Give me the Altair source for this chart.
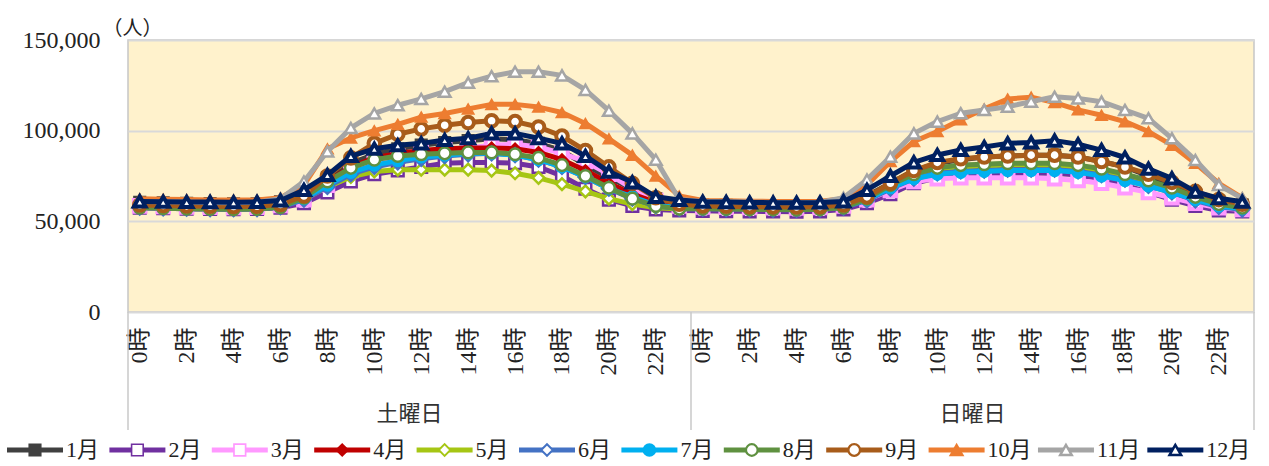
import json

import altair as alt
import pandas as pd

# ---- categories -----------------------------------------------------------
MONTHS = ["1月", "2月", "3月", "4月", "5月", "6月",
          "7月", "8月", "9月", "10月", "11月", "12月"]
DAYS = ["土曜日", "日曜日"]
HOUR_LABELS = [f"{h}時" for h in range(24)]
Y_TICKS = [0, 50000, 100000, 150000]

# ---- series styling -------------------------------------------------------
COLORS = ["#404040", "#7030A0", "#FF99FF", "#C00000", "#A6C614", "#4472C4",
          "#00B0F0", "#5F9140", "#A85C1A", "#ED7D31", "#A5A5A5", "#002060"]
SHAPES = ["square", "square", "square", "diamond", "diamond", "diamond",
          "circle", "circle", "circle", "triangle-up", "triangle-up", "triangle-up"]
FILLS = ["#404040", "white", "white", "#C00000", "white", "white",
         "#00B0F0", "white", "white", "#ED7D31", "white", "white"]
OUTLINE = [1.5, 2.5, 4, 1.5, 2.5, 4, 1.5, 2.5, 4, 1.5, 2.5, 4]

# ---- hourly visitors: Saturday 0-23時 followed by Sunday 0-23時 -------------
JAN = [60500, 60200, 60000, 59800, 59600, 59700, 60800, 66000, 74000, 82000, 87000, 90000,
       92000, 93500, 94500, 95500, 95000, 93000, 89000, 81000, 74000, 68000, 62500, 59500,
       59000, 58800, 58600, 58400, 58300, 58500, 59500, 64000, 71000, 78000, 82000, 84000,
       85500, 86000, 86500, 86500, 85500, 83000, 80000, 75000, 70000, 65000, 61000, 59000]
FEB = [57500, 57200, 57000, 56800, 56700, 56800, 57500, 60000, 66000, 72000, 76000, 78000,
       80000, 82000, 82500, 82500, 82000, 80000, 75000, 68000, 62000, 58500, 56500, 56000,
       55800, 55600, 55500, 55400, 55300, 55500, 56500, 60000, 65000, 71000, 74000, 75000,
       76000, 76500, 76500, 76500, 75500, 73500, 70000, 66000, 62000, 58500, 56000, 55500]
MAR = [58500, 58200, 58000, 57800, 57700, 57800, 58800, 62000, 70000, 78000, 83000, 86000,
       88000, 89500, 90500, 92000, 92500, 91000, 87500, 83000, 76000, 68000, 61500, 58500,
       58000, 57800, 57600, 57500, 57400, 57600, 58500, 62000, 67000, 72000, 73500, 74000,
       74000, 74000, 74000, 73500, 72500, 71000, 68500, 66000, 63000, 60000, 57500, 56500]
APR = [59000, 58700, 58500, 58300, 58200, 58300, 59300, 63000, 72000, 80000, 85000, 87500,
       89000, 90000, 90500, 90500, 90000, 88000, 84000, 78000, 71000, 65000, 60500, 58500,
       58000, 57800, 57600, 57500, 57400, 57600, 58500, 62500, 69000, 74000, 77000, 78500,
       79000, 79500, 79500, 79500, 78500, 76500, 73500, 70000, 66000, 62000, 59000, 57500]
MAY = [58000, 57700, 57500, 57300, 57200, 57300, 58300, 62000, 69000, 74500, 77500, 78500,
       78500, 78500, 78500, 78000, 76500, 74000, 70500, 66500, 62500, 59500, 57500, 56800,
       57500, 57300, 57100, 57000, 56900, 57100, 58000, 62000, 69000, 75000, 78500, 80000,
       80500, 81000, 81000, 80500, 79500, 77500, 74500, 71000, 67000, 62500, 59000, 57500]
JUN = [57500, 57200, 57000, 56800, 56700, 56800, 57800, 62000, 69000, 76000, 80000, 82500,
       84500, 86000, 87000, 87500, 86500, 84000, 80000, 74500, 68000, 62500, 58500, 57000,
       57000, 56800, 56600, 56500, 56400, 56600, 57500, 61500, 68000, 73500, 76500, 77500,
       78000, 78500, 78500, 78500, 77500, 75500, 73000, 69500, 66000, 61500, 58000, 56500]
JUL = [58000, 57700, 57500, 57300, 57200, 57300, 58300, 62500, 70000, 77000, 81000, 83500,
       85500, 86500, 87500, 87500, 86500, 84000, 80000, 74500, 68000, 63500, 59000, 57500,
       57500, 57300, 57100, 57000, 56900, 57100, 58000, 62000, 68500, 73500, 76000, 77000,
       77500, 78000, 78000, 78000, 77000, 75000, 72500, 69500, 66000, 62000, 58500, 57000]
AUG = [57500, 57200, 57000, 56800, 56700, 56800, 57800, 63000, 72000, 79500, 84000, 86000,
       87000, 87500, 88000, 88000, 87000, 85000, 81000, 75000, 68500, 62500, 58500, 57000,
       57000, 56800, 56600, 56500, 56400, 56600, 57500, 62500, 70000, 76000, 79500, 81000,
       81500, 82000, 82000, 82000, 81000, 79000, 76000, 72500, 68500, 63500, 59500, 57500]
SEP = [59000, 58700, 58500, 58300, 58200, 58300, 59300, 64000, 75000, 85000, 93000, 98000,
       101000, 103000, 104500, 105500, 105000, 102000, 97000, 89000, 80000, 71000, 63000, 59500,
       58500, 58300, 58100, 58000, 57900, 58100, 59000, 63500, 71000, 78000, 82500, 84500,
       85500, 86000, 86500, 86500, 85500, 83000, 80000, 76000, 71500, 66500, 62000, 59500]
OCT = [62500, 62200, 62000, 61800, 61700, 61800, 63000, 70000, 90000, 96000, 100000, 103500,
       107500, 109500, 112000, 114500, 114500, 113000, 110000, 104000, 95500, 86500, 75000, 64000,
       61500, 61300, 61100, 61000, 60900, 61100, 62500, 70000, 83000, 94000, 99500, 106000,
       112000, 117500, 118500, 115500, 111500, 108500, 105000, 99500, 92000, 82000, 71000, 63000]
NOV = [61000, 60800, 60600, 60400, 60300, 60500, 62500, 72000, 88500, 101500, 109500, 114000,
       117500, 121500, 126500, 130000, 132500, 132500, 130500, 122500, 111000, 98500, 84000, 62000,
       61000, 60800, 60600, 60400, 60300, 60500, 63000, 73000, 85600, 98500, 105000, 109600,
       111400, 113200, 116000, 118700, 117800, 116000, 111400, 106800, 95800, 83800, 70000, 62700]
DEC = [61000, 60800, 60700, 60600, 60500, 60700, 61500, 67300, 75500, 86000, 90000, 92000,
       93000, 94900, 95800, 98500, 98500, 95800, 93000, 86000, 77400, 71500, 63500, 61800,
       60800, 60600, 60400, 60300, 60200, 60400, 61000, 67300, 75000, 82500, 86600, 89300,
       91000, 93000, 93500, 94500, 92500, 89300, 85200, 79000, 73700, 66400, 62700, 60800]
SERIES = [JAN, FEB, MAR, APR, MAY, JUN, JUL, AUG, SEP, OCT, NOV, DEC]

# ---- layout (plot area in pixels) -----------------------------------------
W, H = 1126, 272
SERIF = "Liberation Serif, Times New Roman, Noto Sans CJK JP, serif"
CJK = "Noto Sans CJK JP, sans-serif"
LINE_W = 5
MARK_SIZE = 135

rows = []
for month, values in zip(MONTHS, SERIES):
    for i, v in enumerate(values):
        rows.append({"month": month, "idx": i, "value": v})
df = pd.DataFrame(rows)

n_points = len(DAYS) * len(HOUR_LABELS)
x_scale = alt.Scale(domain=[-0.5, n_points - 0.5], nice=False, zero=False)
y_scale = alt.Scale(domain=[0, 150000], nice=False)

hour_expr = f"{json.dumps(HOUR_LABELS, ensure_ascii=False)}[datum.value % 24]"
x_axis = alt.Axis(
    values=list(range(0, n_points, 2)), labelExpr=hour_expr, labelAngle=270,
    labelFont=SERIF, labelFontSize=24, labelColor="#222222",
    labelPadding=15, labelOverlap=False, labelFlush=False, labelBound=False,
    ticks=False, tickSize=0, domain=False, grid=False, title=None,
)
y_axis = alt.Axis(
    values=Y_TICKS, labelExpr="format(datum.value, ',')", labelFont=SERIF,
    labelFontSize=24, labelColor="#222222", labelPadding=28, ticks=False,
    tickSize=0, domain=False, grid=True, gridColor="#D9D9D9", gridWidth=2,
    title="（人）", titleAngle=0, titleX=-26, titleY=-12, titleAlign="left",
    titleBaseline="middle", titleFont=CJK, titleFontSize=20,
    titleFontWeight="normal", titleColor="#222222",
)
y_enc = alt.Y("value:Q", scale=y_scale, axis=y_axis)

# one line + marker layer per month so later months sit on top of earlier ones
layers = []
for k, month in enumerate(MONTHS):
    base = alt.Chart(df).transform_filter(alt.datum.month == month)
    x_enc = alt.X("idx:Q", scale=x_scale, axis=x_axis if k == 0 else None)
    line = base.mark_line(color=COLORS[k], strokeWidth=LINE_W, strokeJoin="round",
                          opacity=1).encode(x=x_enc, y=y_enc)
    pts = base.mark_point(
        shape=SHAPES[k], size=MARK_SIZE, filled=True, fill=FILLS[k], stroke=COLORS[k],
        strokeWidth=OUTLINE[k], opacity=1,
    ).encode(x=alt.X("idx:Q", scale=x_scale, axis=None), y=y_enc)
    layers += [line, pts]

# day grouping below the hour labels
bounds = pd.DataFrame({"b": [d * len(HOUR_LABELS) - 0.5 for d in range(len(DAYS) + 1)]})
separators = alt.Chart(bounds).mark_rule(color="#C8C8C8", strokeWidth=1.5).encode(
    x=alt.X("b:Q", scale=x_scale, axis=None),
    y=alt.value(H), y2=alt.value(H + 118),
)
days_df = pd.DataFrame({"day": DAYS, "d": list(range(len(DAYS)))})
day_labels = alt.Chart(days_df).transform_calculate(
    mid=f"datum.d * {len(HOUR_LABELS)} + {(len(HOUR_LABELS) - 1) / 2}"
).mark_text(font=CJK, fontSize=22, color="#333333", baseline="middle").encode(
    x=alt.X("mid:Q", scale=x_scale, axis=None),
    y=alt.value(H + 102),
    text="day:N",
)

# legend row: line sample with marker, then the month name
leg_df = pd.DataFrame({"month": MONTHS, "i": list(range(len(MONTHS)))})
leg_x = alt.X("pos:Q", scale=alt.Scale(domain=[0, 11], range=[-93, -93 + 102.4 * 11],
                                       nice=False, zero=False), axis=None)
leg_base = alt.Chart(leg_df).transform_calculate(
    pos="datum.i + 0.068 * max(0, datum.i - 9)")
color_scale = alt.Scale(domain=MONTHS, range=COLORS)
leg_line = leg_base.mark_tick(orient="horizontal", size=56, thickness=LINE_W,
                              opacity=1).encode(
    x=leg_x, y=alt.value(H + 138),
    color=alt.Color("month:N", scale=color_scale, legend=None),
)
leg_marker = leg_base.mark_point(size=MARK_SIZE, filled=True, opacity=1).encode(
    x=leg_x, y=alt.value(H + 138),
    shape=alt.Shape("month:N", scale=alt.Scale(domain=MONTHS, range=SHAPES), legend=None),
    fill=alt.Fill("month:N", scale=alt.Scale(domain=MONTHS, range=FILLS), legend=None),
    stroke=alt.Stroke("month:N", scale=color_scale, legend=None),
    strokeWidth=alt.StrokeWidth("month:O", sort=MONTHS,
                                scale=alt.Scale(domain=MONTHS, range=OUTLINE), legend=None),
)
leg_text = leg_base.mark_text(
    align="left", baseline="middle", dx=31, font=SERIF, fontSize=22, color="#222222"
).encode(x=leg_x, y=alt.value(H + 138), text="month:N")

chart = alt.layer(
    *layers, separators, day_labels, leg_line, leg_marker, leg_text
).resolve_scale(
    x="independent"
).properties(
    width=W, height=H,
    autosize=alt.AutoSizeParams(type="none"),
    padding={"left": 128, "top": 40, "right": 15, "bottom": 154},
    background="white",
).configure_view(
    fill="#FFF2CC", stroke="#C6C6C6", strokeWidth=1.5,
)

chart.save("out.html", embed_options={"renderer": "svg", "actions": False})
